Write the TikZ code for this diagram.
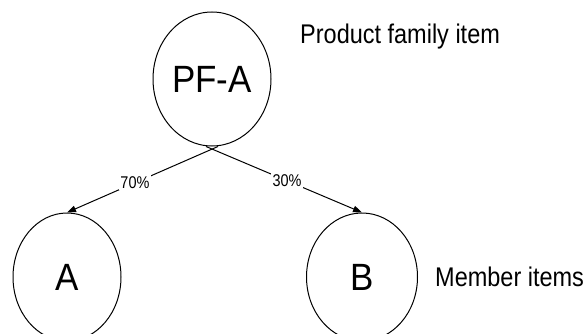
\documentclass[tikz,border=0pt]{standalone}
\usepackage{fontspec}
\setmainfont{Liberation Sans}
\usepackage{graphicx}
\usetikzlibrary{shapes.geometric,arrows.meta}
\begin{document}
\begin{tikzpicture}[x=1pt,y=1pt,
  item/.style={draw, ellipse, line width=1pt, inner sep=0pt},
  link/.style={line width=1pt, -{Triangle[length=9pt,width=6.5pt]}},
  pct/.style={fill=white, inner sep=1.5pt, font=\fontsize{17}{17}\selectfont},
  note/.style={anchor=west, inner sep=0pt, font=\fontsize{27}{27}\selectfont},
  big/.style={font=\fontsize{38}{38}\selectfont}]
\useasboundingbox (0,0) rectangle (584,333);
\clip (0,0) rectangle (584,333);
\node[item, big, minimum width=118pt, minimum height=134pt] (pfa) at (212,254) {\scalebox{0.92}[1]{PF-A}};
\node[item, big, minimum width=108pt, minimum height=128pt] (a) at (67,56) {\scalebox{0.92}[1]{A}};
\node[item, big, minimum width=111pt, minimum height=128pt] (b) at (362,56) {\scalebox{0.92}[1]{B}};
\coordinate (sa) at ([xshift=6pt]pfa.south);
\coordinate (sb) at ([xshift=-6pt]pfa.south);
\draw[link] (sa) -- (a.north) node[pct, pos=0.55] {\scalebox{0.85}[1]{70\%}};
\draw[link] (sb) -- (b.north) node[pct, pos=0.52] {\scalebox{0.85}[1]{30\%}};
\node[note] (pfl) at (300,296) {\scalebox{0.87}[1]{Product family item}};
\node[note] (ml) at (435,56) {\scalebox{0.87}[1]{Member items}};
\end{tikzpicture}
\end{document}
